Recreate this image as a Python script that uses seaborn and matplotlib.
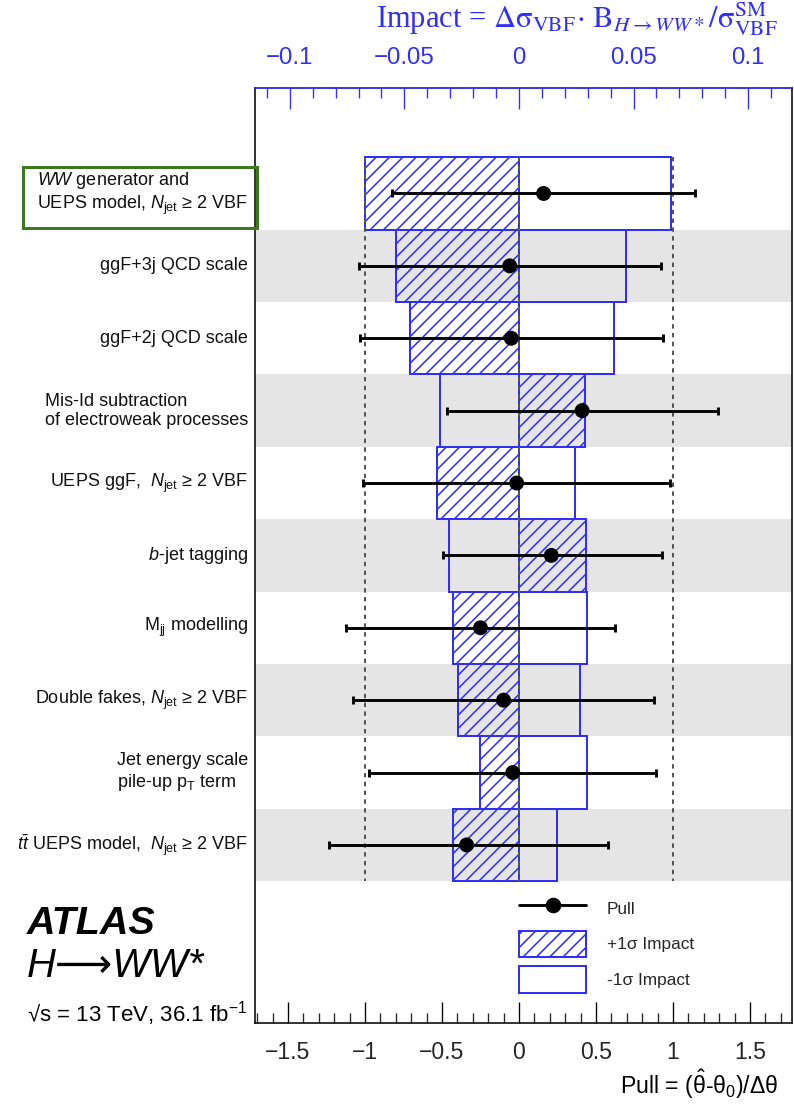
import numpy as np
import pandas as pd
import matplotlib
matplotlib.use("Agg")
import matplotlib.pyplot as plt
import matplotlib.transforms as mtransforms
from matplotlib.patches import Patch, Rectangle
from matplotlib.lines import Line2D
from matplotlib.ticker import MultipleLocator, FuncFormatter
import seaborn as sns

# Nuisance parameters ranked by their impact on the VBF cross-section (top to bottom)
labels = [
    "$WW$ generator and\nUEPS model, $N_{\\mathrm{jet}}$ ≥ 2 VBF",
    "ggF+3j QCD scale",
    "ggF+2j QCD scale",
    "Mis-Id subtraction\nof electroweak processes",
    "UEPS ggF,  $N_{\\mathrm{jet}}$ ≥ 2 VBF",
    "$b$-jet tagging",
    "M$_{\\mathrm{jj}}$ modelling",
    "Double fakes, $N_{\\mathrm{jet}}$ ≥ 2 VBF",
    "Jet energy scale\npile-up p$_{\\mathrm{T}}$ term",
    "$t\\bar{t}$ UEPS model,  $N_{\\mathrm{jet}}$ ≥ 2 VBF",
]
pull = [0.16, -0.06, -0.05, 0.41, -0.015, 0.21, -0.25, -0.10, -0.04, -0.34]
pull_err_lo = [0.985, 0.98, 0.985, 0.875, 1.0, 0.70, 0.875, 0.98, 0.935, 0.895]
pull_err_hi = [0.98, 0.985, 0.985, 0.88, 0.995, 0.72, 0.875, 0.98, 0.93, 0.915]
impact_up = [-0.0670, -0.0538, -0.0477, 0.0290, -0.0357, 0.0294, -0.0287, -0.0265, -0.0168, -0.0288]
impact_down = [0.0664, 0.0465, 0.0414, -0.0345, 0.0244, -0.0306, 0.0298, 0.0266, 0.0298, 0.0168]

pull_ticks = [-1.5, -1, -0.5, 0, 0.5, 1, 1.5]
impact_ticks = [-0.1, -0.05, 0, 0.05, 0.1]

BLUE = "#2f2ff5"
GREEN = "#3b7a1f"
BAND = "#e5e5e5"
# impact units per unit of pull on the shared horizontal scale
K = 0.0672

df = pd.DataFrame({
    "label": labels, "pull": pull, "lo": pull_err_lo, "hi": pull_err_hi,
    "up": impact_up, "down": impact_down,
})
df["row"] = np.arange(len(df))

sns.set_theme(style="white")
plt.rcParams["font.family"] = ["Liberation Sans", "DejaVu Sans"]
plt.rcParams["mathtext.fontset"] = "custom"
plt.rcParams["mathtext.rm"] = "Liberation Sans"
plt.rcParams["mathtext.it"] = "Liberation Sans:italic"
plt.rcParams["mathtext.bf"] = "Liberation Sans:bold"
plt.rcParams["mathtext.sf"] = "Liberation Sans"
plt.rcParams["hatch.linewidth"] = 1.4
plt.rcParams["axes.unicode_minus"] = True

DPI = 80
W, H = 794, 1111
fig = plt.figure(figsize=(W / DPI, H / DPI), dpi=DPI)
fig.patch.set_facecolor("white")
ax = fig.add_axes([255 / W, 1 - 1023 / H, 537 / W, 935 / H])
ax.set_facecolor("white")

n = len(df)
ax.set_xlim(-1.714, 1.773)
ax.set_ylim(n - 0.5 + 1.96, -0.5 - 0.957)

# alternating grey bands
for r in df["row"]:
    if r % 2 == 1:
        ax.axhspan(r - 0.5, r + 0.5, color=BAND, lw=0, zorder=0)

# +1 sigma (hatched) and -1 sigma (open) impact boxes, expressed in pull units
ax.barh(df["row"], df["up"] / K, left=0, height=1.0, fill=False,
        edgecolor=BLUE, hatch="//", lw=1.8, zorder=2)
ax.barh(df["row"], df["down"] / K, left=0, height=1.0, fill=False,
        edgecolor=BLUE, lw=1.8, zorder=2)

# reference lines at 0 and +-1
for xv in (-1, 0, 1):
    ax.plot([xv, xv], [-0.5, n - 0.5], color="#555555", ls=(0, (2.2, 2.2)),
            lw=1.8, zorder=3)

# pulls with their constraints
ax.errorbar(df["pull"], df["row"], xerr=[df["lo"], df["hi"]], fmt="none",
            ecolor="black", elinewidth=2.6, capsize=4, capthick=2.6, zorder=4)
sns.scatterplot(data=df, x="pull", y="row", ax=ax, color="black", s=180,
                edgecolor="none", zorder=5, legend=False)
ax.set_xlabel("")
ax.set_ylabel("")
ax.set_yticks([])

# row labels
trans = mtransforms.blended_transform_factory(ax.transAxes, ax.transData)
for r, lab in zip(df["row"], df["label"]):
    ax.text(-0.013, r, lab, transform=trans, ha="right", va="center",
            multialignment="left", fontsize=16.2, color="#111111",
            linespacing=1.15)

# highlight box around the leading nuisance parameter
fig.add_artist(Rectangle((23 / W, 1 - 228 / H), 234 / W, 61 / H,
                         transform=fig.transFigure, fill=False,
                         edgecolor=GREEN, lw=2.7, zorder=10))

fmt = FuncFormatter(lambda v, p: ("%g" % v).replace("-", "\u2212"))

# bottom pull axis
ax.xaxis.set_major_locator(plt.FixedLocator(pull_ticks))
ax.xaxis.set_minor_locator(MultipleLocator(0.1))
ax.xaxis.set_major_formatter(fmt)
ax.tick_params(axis="x", which="major", direction="in", length=19, width=1.2,
               labelsize=20.7, pad=16, color="black", bottom=True, top=False)
ax.tick_params(axis="x", which="minor", direction="in", length=9, width=1.2,
               bottom=True, top=False)
for s in ("left", "right", "bottom"):
    ax.spines[s].set_color("black")
    ax.spines[s].set_linewidth(1.4)
ax.spines["top"].set_color(BLUE)
ax.spines["top"].set_linewidth(1.4)

# top impact axis
sec = ax.secondary_xaxis("top", functions=(lambda x: x * K, lambda x: x / K))
sec.xaxis.set_major_locator(plt.FixedLocator(impact_ticks))
sec.xaxis.set_minor_locator(MultipleLocator(0.01))
sec.xaxis.set_major_formatter(fmt)
sec.tick_params(axis="x", which="major", direction="in", length=19, width=1.2,
                labelsize=21.6, pad=17, color=BLUE, labelcolor=BLUE)
sec.tick_params(axis="x", which="minor", direction="in", length=9, width=1.2,
                color=BLUE)
sec.spines["top"].set_color(BLUE)
sec.spines["top"].set_linewidth(1.4)

# legend
handles = [
    Line2D([], [], color="black", lw=2.6, marker="o", ms=13, label="Pull"),
    Patch(facecolor="none", edgecolor=BLUE, hatch="//", lw=1.8, label="+1σ Impact"),
    Patch(facecolor="none", edgecolor=BLUE, lw=1.8, label="-1σ Impact"),
]
ax.legend(handles=handles, loc="center left",
          bbox_to_anchor=((519 - 255) / 537, (1023 - 944) / 935),
          frameon=False, borderpad=0, borderaxespad=0, fontsize=15.5,
          handlelength=3.9, handleheight=1.95, labelspacing=0.55,
          handletextpad=1.2)

# axis titles
fig.text(778 / W, 1 - 28 / H,
         r"Impact = $\Delta\mathrm{\sigma}_{\mathrm{VBF}}\!\cdot\,\mathrm{B}_{H\rightarrow WW*}/\mathrm{\sigma}_{\mathrm{VBF}}^{\mathrm{SM}}$",
         ha="right", va="baseline", color=BLUE, fontsize=27.5,
         family="Liberation Serif", math_fontfamily="stix")
fig.text(778 / W, 1 - 1094 / H,
         r"Pull = ($\hat{\mathrm{\theta}}$-$\mathrm{\theta}_{0}$)/$\mathrm{\Delta\theta}$",
         ha="right", va="baseline", fontsize=20.7, color="black")

# experiment labels
fig.text(27 / W, 1 - 934 / H, "ATLAS", fontsize=35.5, fontweight="bold",
         style="italic", va="baseline", color="black")
fig.text(27 / W, 1 - 977 / H, "H⟶WW*", fontsize=36, style="italic",
         va="baseline", color="black")
fig.text(27 / W, 1 - 1022 / H, r"√s = 13 TeV, 36.1 fb$^{-1}$", fontsize=20,
         va="baseline", color="black")

fig.savefig("out.png", dpi=DPI)
